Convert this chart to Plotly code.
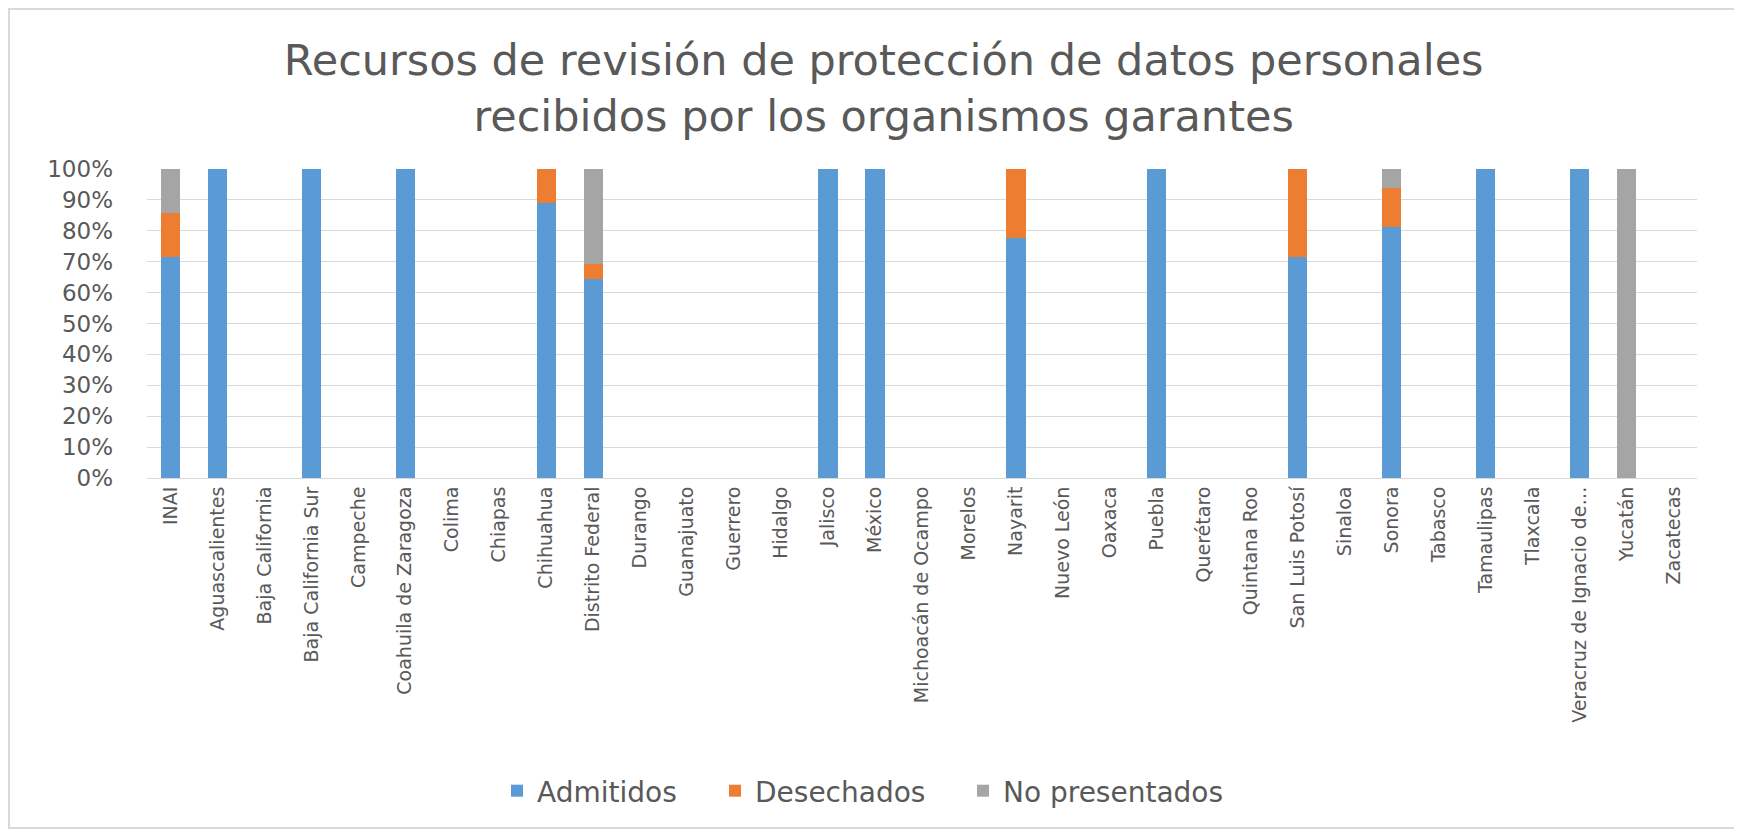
import plotly.graph_objects as go

categories = ["INAI", "Aguascalientes", "Baja California", "Baja California Sur", "Campeche",
              "Coahuila de Zaragoza", "Colima", "Chiapas", "Chihuahua", "Distrito Federal",
              "Durango", "Guanajuato", "Guerrero", "Hidalgo", "Jalisco", "México",
              "Michoacán de Ocampo", "Morelos", "Nayarit", "Nuevo León", "Oaxaca", "Puebla",
              "Querétaro", "Quintana Roo", "San Luis Potosí", "Sinaloa", "Sonora", "Tabasco",
              "Tamaulipas", "Tlaxcala", "Veracruz de Ignacio de…", "Yucatán", "Zacatecas"]

admitidos = [71.4, 100, None, 100, None, 100, None, None, 88.9, 64.5,
             None, None, None, None, 100, 100, None, None, 77.8, None,
             None, 100, None, None, 71.4, None, 81.2, None, 100, None,
             100, None, None]
desechados = [14.3, None, None, None, None, None, None, None, 11.1, 4.6,
              None, None, None, None, None, None, None, None, 22.2, None,
              None, None, None, None, 28.6, None, 12.5, None, None, None,
              None, None, None]
no_presentados = [14.3, None, None, None, None, None, None, None, None, 30.9,
                  None, None, None, None, None, None, None, None, None, None,
                  None, None, None, None, None, None, 6.3, None, None, None,
                  None, 100, None]

series = [("Admitidos", admitidos, "#5B9BD5"),
          ("Desechados", desechados, "#ED7D31"),
          ("No presentados", no_presentados, "#A5A5A5")]

title_text = "Recursos de revisión de protección de datos personales<br>recibidos por los organismos garantes"

# page has an 8px body margin: figure sized to fill the remaining window
W, H = 1734, 822
L, R, T, B = 139, 45, 161, 352
pw, ph = W - L - R, H - T - B

FONT = "DejaVu Sans"
TXT = "#595959"

# one legend per series so the entries sit where the reference puts them
legend_ids = ["legend", "legend2", "legend3"]
legend_left_px = [489, 707, 955]

fig = go.Figure()
for (name, vals, color), lid in zip(series, legend_ids):
    fig.add_trace(go.Bar(x=categories, y=vals, name=name, legend=lid,
                         marker=dict(color=color, line=dict(width=0))))

legend_layout = {}
for lid, lx in zip(legend_ids, legend_left_px):
    legend_layout[lid] = dict(orientation="h", x=(lx - L) / pw, xanchor="left",
                              y=(T + ph - 783) / ph, yanchor="middle",
                              font=dict(family=FONT, size=28, color=TXT), itemwidth=30,
                              bgcolor="rgba(0,0,0,0)")

fig.update_layout(
    width=W, height=H,
    margin=dict(l=L, r=R, t=T, b=B),
    barmode="stack", bargap=0.59,
    paper_bgcolor="white", plot_bgcolor="white",
    font=dict(family=FONT, color=TXT),
    title=dict(text=title_text, x=0.505, xanchor="center", y=1 - 67 / H, yanchor="middle",
               font=dict(family=FONT, size=43, color=TXT)),
    xaxis=dict(tickangle=-90, tickfont=dict(family=FONT, size=19, color=TXT),
               showgrid=False, showline=True, linecolor="#D9D9D9", linewidth=1,
               ticks="", ticklabelstandoff=0),
    yaxis=dict(range=[0, 100], dtick=10, ticksuffix="%",
               tickfont=dict(family=FONT, size=23, color=TXT),
               showgrid=True, gridcolor="#D9D9D9", gridwidth=1,
               zeroline=False, showline=False, ticks="", ticklabelstandoff=33),
    showlegend=True,
    **legend_layout,
)

# chart-area frame
fig.add_shape(type="rect", xref="paper", yref="paper", layer="below",
              x0=(1 - L) / pw, x1=(W - 3 - L) / pw,
              y0=(T + ph - (H - 2)) / ph, y1=(T + ph - 1) / ph,
              line=dict(color="#D9D9D9", width=2), fillcolor="rgba(0,0,0,0)")

fig.write_html("out.html")
